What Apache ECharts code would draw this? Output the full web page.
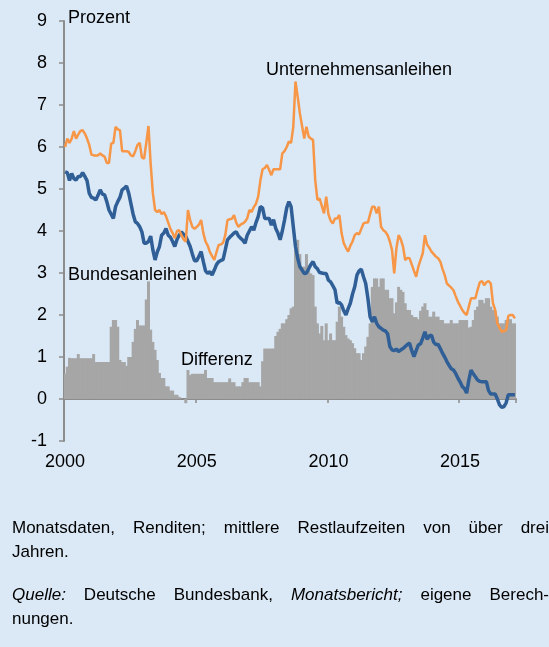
<!DOCTYPE html>
<html>
<head>
<meta charset="utf-8">
<script src="https://cdn.jsdelivr.net/npm/echarts@6/dist/echarts.min.js"></script>
<style>
html,body{margin:0;padding:0;background:#dbe9f6;}
#chart{position:absolute;left:0;top:0;width:549px;height:647px;}
#notes{position:absolute;left:12px;top:516px;width:537px;font-family:"Liberation Sans",Arial,sans-serif;font-size:17px;line-height:24px;color:#000;}
.j{text-align:justify;text-align-last:justify;}
.p2{margin-top:19px;}
</style>
</head>
<body>
<div id="chart"></div>
<div id="notes">
<div class="j">Monatsdaten, Renditen; mittlere Restlaufzeiten von über drei</div>
<div>Jahren.</div>
<div class="j p2"><i>Quelle:</i> Deutsche Bundesbank, <i>Monatsbericht;</i> eigene Berech-</div>
<div>nungen.</div>
</div>
<script>
// Monthly data, January 2000 to February 2017
const startYear = 2000;
const monthCount = 206;
const yearTickLabels = ['2000', '2005', '2010', '2015'];

// Unternehmensanleihen (orange)
const corporate = [
  6.0, 6.2, 6.1, 6.2, 6.38, 6.2, 6.3, 6.38, 6.4, 6.32, 6.2, 6.05,
  5.82, 5.8, 5.8, 5.8, 5.85, 5.8, 5.77, 5.62, 5.62, 6.08, 6.1, 6.48,
  6.42, 6.4, 5.9, 5.9, 5.9, 5.88, 5.8, 5.78, 5.9, 6.05, 6.1, 5.75,
  5.72, 6.1, 6.5, 5.6, 4.9, 4.5, 4.45, 4.5, 4.4, 4.45, 4.35, 4.2,
  4.05, 3.95, 3.83, 4.0, 4.02, 3.9, 3.8, 3.75, 4.5, 4.26, 4.1, 4.05,
  4.1, 4.15, 4.26, 3.95, 3.75, 3.65, 3.5, 3.4, 3.31, 3.5, 3.67, 3.68,
  3.72, 3.9, 4.26, 4.28, 4.29, 4.38, 4.2, 4.1, 4.15, 4.18, 4.22, 4.3,
  4.5, 4.45, 4.57, 4.65, 4.82, 5.2, 5.47, 5.5, 5.57, 5.45, 5.33, 5.47,
  5.47, 5.47, 5.47, 5.85, 5.9, 6.0, 6.13, 6.1, 6.48, 7.56, 7.2, 6.8,
  6.5, 6.2, 6.48, 6.25, 6.2, 6.17, 5.21, 4.74, 4.77, 4.6, 4.42, 4.82,
  4.4, 4.25, 4.18, 4.3, 4.3, 4.38, 3.95, 3.71, 3.6, 3.51, 3.65, 3.75,
  3.9, 3.95, 3.92, 4.05, 4.18, 4.2, 4.2, 4.4, 4.58, 4.58, 4.42, 4.58,
  4.1, 4.02, 3.98, 3.9, 3.75, 3.55, 2.99, 3.59, 3.9, 3.8, 3.63, 3.31,
  3.36, 3.35, 3.2, 3.05, 2.91, 3.15, 3.31, 3.47, 3.9, 3.67, 3.6, 3.51,
  3.45, 3.39, 3.35, 3.27, 3.1, 2.95, 2.75, 2.7, 2.65, 2.59, 2.45, 2.32,
  2.22, 2.12, 2.05, 2.0, 2.2, 2.4, 2.4, 2.4, 2.6, 2.78, 2.81, 2.71,
  2.78, 2.81, 2.75, 2.28, 2.12, 1.8, 1.7, 1.6, 1.62, 1.64, 1.98, 2.0,
  2.0, 1.92
];

// Bundesanleihen (blue)
const federal = [
  5.41, 5.39, 5.2, 5.37, 5.25, 5.21, 5.3, 5.3, 5.39, 5.3, 5.2, 4.9,
  4.8, 4.78, 4.74, 4.85, 4.98, 4.88, 4.86, 4.7, 4.5, 4.4, 4.3, 4.58,
  4.7, 4.8, 4.98, 5.02, 5.07, 4.9, 4.65, 4.4, 4.22, 4.18, 4.1, 3.98,
  3.71, 3.71, 3.75, 3.88, 3.55, 3.31, 3.5, 3.63, 3.9, 3.95, 4.06, 3.9,
  3.85, 3.75, 3.63, 3.8, 3.9, 3.98, 3.92, 3.87, 3.75, 3.63, 3.45, 3.29,
  3.29, 3.4, 3.51, 3.27, 3.05, 2.99, 3.03, 2.95, 3.07, 3.2, 3.27, 3.3,
  3.32, 3.55, 3.79, 3.85, 3.9, 3.95, 3.98, 3.88, 3.83, 3.78, 3.71, 3.9,
  4.0, 4.1, 4.02, 4.2, 4.34, 4.58, 4.55, 4.3, 4.3, 4.3, 4.14, 4.27,
  4.06, 3.95, 3.79, 4.0, 4.26, 4.55, 4.7, 4.58, 4.1, 3.63, 3.35, 3.15,
  3.07, 2.99, 3.0, 3.1, 3.2, 3.27, 3.15, 3.1, 3.01, 3.0, 2.99, 2.99,
  2.83, 2.79, 2.7, 2.6, 2.28, 2.3, 2.24, 2.1, 2.0, 2.15, 2.28, 2.5,
  2.67, 2.95, 3.05, 3.09, 2.91, 2.75, 2.4, 1.96, 1.84, 1.96, 1.8, 1.72,
  1.68, 1.64, 1.62, 1.55, 1.25, 1.17, 1.15, 1.19, 1.13, 1.17, 1.2, 1.25,
  1.3, 1.33, 1.15, 1.01, 1.15, 1.29, 1.31, 1.45, 1.6, 1.42, 1.5, 1.52,
  1.35, 1.3, 1.3, 1.2, 1.09, 1.0, 0.89, 0.8, 0.72, 0.69, 0.61, 0.5,
  0.41, 0.3, 0.25, 0.14, 0.45, 0.69, 0.6, 0.53, 0.45, 0.42, 0.41, 0.41,
  0.41, 0.2, 0.12, 0.12, 0.12, 0.0, -0.14, -0.2, -0.18, -0.09, 0.1, 0.1,
  0.1, 0.1
];

// Differenz (grey bars)
const spread = [
  0.6, 0.77, 0.98, 0.97, 0.97, 0.97, 1.07, 0.97, 0.97, 0.97, 0.97, 0.97,
  0.97, 1.07, 0.88, 0.88, 0.88, 0.88, 0.88, 0.88, 0.88, 1.72, 1.88, 1.88,
  1.72, 0.93, 0.88, 0.88, 0.79, 1.0, 1.0, 1.36, 1.67, 1.88, 1.75, 1.75,
  1.75, 2.37, 2.8, 1.65, 1.36, 1.17, 0.93, 0.62, 0.5, 0.5, 0.3, 0.3,
  0.2, 0.2, 0.1, 0.1, 0.05, 0, 0, -0.1, 0.69, 0.57, 0.6, 0.6,
  0.6, 0.6, 0.6, 0.6, 0.69, 0.5, 0.5, 0.5, 0.4, 0.4, 0.4, 0.4,
  0.4, 0.4, 0.4, 0.49, 0.4, 0.4, 0.3, 0.3, 0.3, 0.4, 0.5, 0.5,
  0.4, 0.4, 0.4, 0.4, 0.4, 0.3, 0.9, 1.2, 1.2, 1.2, 1.2, 1.2,
  1.5, 1.6, 1.67, 1.8, 1.8, 1.9, 2.0, 2.16, 2.2, 3.55, 3.79, 3.45,
  3.15, 3.15, 3.45, 3.19, 2.99, 2.95, 2.2, 1.8, 1.56, 1.74, 1.4, 1.8,
  1.4, 1.56, 1.4, 1.4, 1.84, 2.2, 1.96, 1.72, 1.52, 1.44, 1.4, 1.33,
  1.21, 1.09, 1.09, 0.93, 1.09, 1.25, 1.48, 1.8, 2.67, 2.87, 2.87, 2.67,
  2.87, 2.87, 2.6, 2.6, 2.4, 2.4, 2.04, 2.3, 2.67, 2.6, 2.55, 2.28,
  2.12, 2.12, 2.0, 1.95, 1.95, 1.9, 2.1, 2.2, 2.28, 2.12, 1.96, 1.96,
  2.08, 1.96, 1.96, 1.88, 1.88, 1.8, 1.8, 1.8, 1.88, 1.8, 1.8, 1.8,
  1.88, 1.88, 1.88, 1.88, 1.7, 1.72, 1.88, 2.12, 2.2, 2.36, 2.36, 2.28,
  2.4, 2.4, 2.2, 2.12, 2.1, 1.96, 1.8, 1.8, 1.8, 1.88, 1.9, 1.9,
  1.8, 1.8
];

// Month categories "YYYY-MM"
const months = [];
for (let i = 0; i < monthCount; i++) {
  const y = startYear + Math.floor(i / 12);
  const m = (i % 12) + 1;
  months.push(y + '-' + (m < 10 ? '0' + m : '' + m));
}
const isYearTick = (idx) => {
  if (idx < 0 || idx >= months.length) return false;
  return yearTickLabels.indexOf(months[idx].slice(0, 4)) >= 0 && months[idx].slice(5) === '01';
};

const FONT = '"Liberation Sans", Arial, Helvetica, sans-serif';
const FS = 18;
const AXIS = '#8c8c8c';
const BAR = '#a6a6a6';

const chart = echarts.init(document.getElementById('chart'), null, { renderer: 'canvas' });
chart.setOption({
  backgroundColor: '#dbe9f6',
  animation: false,
  textStyle: { fontFamily: FONT },
  grid: { left: 64, right: 33, top: 21, bottom: 206, containLabel: false, outerBoundsMode: 'none' },
  xAxis: {
    type: 'category',
    data: months,
    boundaryGap: true,
    axisLine: { show: true, onZero: true, lineStyle: { color: AXIS, width: 2 } },
    axisTick: { show: true, interval: (i) => isYearTick(i), length: 4, lineStyle: { color: AXIS, width: 1.5 } },
    axisLabel: {
      interval: (i) => isYearTick(i),
      formatter: (v) => v.slice(0, 4),
      margin: 12,
      fontSize: FS,
      color: '#000',
      fontFamily: FONT
    },
    splitLine: { show: false }
  },
  yAxis: {
    type: 'value',
    min: -1,
    max: 9,
    interval: 1,
    name: 'Prozent',
    nameLocation: 'end',
    nameGap: 3,
    nameTextStyle: { align: 'left', verticalAlign: 'middle', padding: [0, 0, 0, 4], fontSize: FS, color: '#000', fontFamily: FONT },
    axisLine: { show: true, lineStyle: { color: AXIS, width: 2 } },
    axisTick: { show: true, length: 5, lineStyle: { color: AXIS, width: 1.5 } },
    axisLabel: { margin: 17, fontSize: FS, color: '#000', fontFamily: FONT },
    splitLine: { show: false }
  },
  series: [
    {
      name: 'Differenz',
      type: 'bar',
      data: spread,
      barWidth: 3,
      barGap: '-100%',
      itemStyle: { color: BAR, borderWidth: 0 },
      z: 1
    },
    {
      name: 'Bundesanleihen',
      type: 'line',
      data: federal,
      symbol: 'none',
      lineStyle: { color: '#2f5f96', width: 3.5 },
      z: 3
    },
    {
      name: 'Unternehmensanleihen',
      type: 'line',
      data: corporate,
      symbol: 'none',
      lineStyle: { color: '#f79646', width: 2.5 },
      z: 4
    }
  ],
  graphic: [
    { type: 'text', x: 266, y: 70, style: { text: 'Unternehmensanleihen', fontSize: FS, fontFamily: FONT, fill: '#000', align: 'left', verticalAlign: 'middle' } },
    { type: 'text', x: 68, y: 275, style: { text: 'Bundesanleihen', fontSize: FS, fontFamily: FONT, fill: '#000', align: 'left', verticalAlign: 'middle' } },
    { type: 'text', x: 181, y: 360, style: { text: 'Differenz', fontSize: FS, fontFamily: FONT, fill: '#000', align: 'left', verticalAlign: 'middle' } }
  ]
});
</script>
</body>
</html>
